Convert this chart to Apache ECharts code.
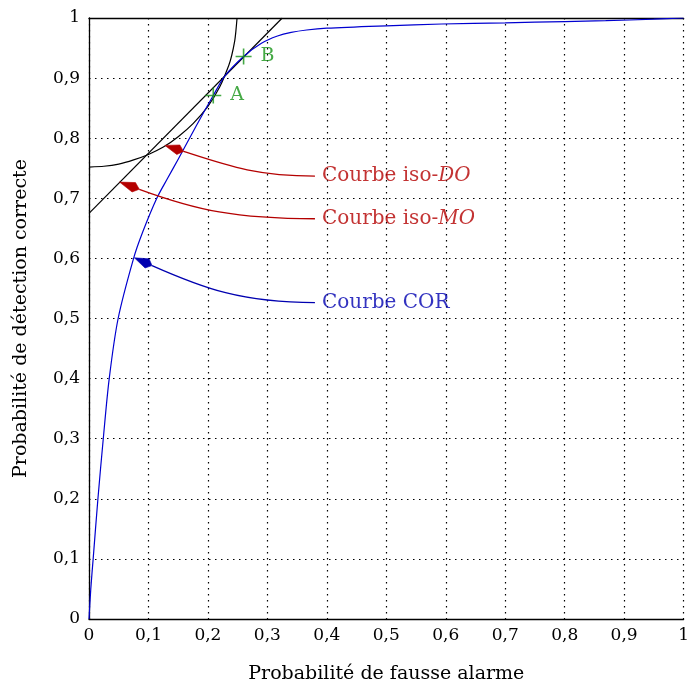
<!DOCTYPE html>
<html>
<head>
<meta charset="utf-8">
<script src="https://cdn.jsdelivr.net/npm/echarts@6/dist/echarts.min.js"></script>
<style>html,body{margin:0;padding:0;background:#fff}#c{width:692px;height:689px}</style>
</head>
<body>
<div id="c"></div>
<script>
// ---- data ----
const tickLabels = ['0','0,1','0,2','0,3','0,4','0,5','0,6','0,7','0,8','0,9','1'];

const rocX = [0, 0.003, 0.007, 0.015, 0.024, 0.034, 0.049, 0.075, 0.09, 0.114, 0.1315, 0.15, 0.18, 0.209, 0.228, 0.26, 0.29, 0.317, 0.34, 0.366, 0.40, 0.5, 0.593, 0.7, 0.8, 0.869, 0.95, 1];
const rocY = [0, 0.05, 0.10, 0.20, 0.30, 0.40, 0.50, 0.60, 0.643, 0.70, 0.732, 0.765, 0.82, 0.871, 0.903, 0.936, 0.958, 0.970, 0.976, 0.980, 0.983, 0.987, 0.990, 0.992, 0.994, 0.9955, 0.998, 1];

const isoDoX = [0, 0.025, 0.05, 0.075, 0.1, 0.125, 0.15, 0.175, 0.2, 0.22, 0.235, 0.24, 0.245, 0.247, 0.249];
const isoDoY = [0.752, 0.7533, 0.757, 0.764, 0.773, 0.7852, 0.8025, 0.8243, 0.853, 0.8855, 0.921, 0.9376, 0.9615, 0.9778, 1.0];

const isoMoX = [0, 0.325];
const isoMoY = [0.675, 1];

const pointNames = ['A', 'B'];
const pointX = [0.209, 0.260];
const pointY = [0.871, 0.936];

const annNames = ['DO', 'MO', 'COR'];
const annTextX = [0.380, 0.380, 0.380];
const annTextY = [0.737, 0.666, 0.5265];
const annBackX = [0.159, 0.0846, 0.106];
const annBackY = [0.778, 0.715, 0.588];
const annTipX = [0.1277, 0.0514, 0.0763];
const annTipY = [0.788, 0.727, 0.601];
const annColors = ['#b40000', '#b40000', '#0000b0'];

// ---- chart ----
const FONT = 'DejaVu Serif';
const zip = (xs, ys) => xs.map((x, i) => [x, ys[i]]);
const tickFmt = v => tickLabels[Math.round(v * 10)];

const annArrows = annNames.map((n, i) => [annTextX[i], annTextY[i], annBackX[i], annBackY[i], annTipX[i], annTipY[i]]);
const annLabels = annNames.map((n, i) => ({
  value: [annTextX[i], annTextY[i]],
  label: {
    color: annColors[i],
    formatter: n === 'COR' ? 'Courbe COR' : 'Courbe iso-{i|' + n + '}',
    rich: { i: { fontStyle: 'italic', color: annColors[i], fontFamily: FONT, fontSize: 20 } }
  }
}));

function renderArrow(params, api) {
  const p1 = api.coord([api.value(0), api.value(1)]);
  const pb = api.coord([api.value(2), api.value(3)]);
  const pt = api.coord([api.value(4), api.value(5)]);
  const color = annColors[params.dataIndex];
  let ux = pt[0] - pb[0], uy = pt[1] - pb[1];
  const L = Math.hypot(ux, uy); ux /= L; uy /= L;
  const nx = -uy, ny = ux, w = 5;
  const dx = p1[0] - pb[0];
  const k = 0.35 * dx;
  const side = 0.72 * L;
  return {
    type: 'group',
    children: [
      {
        type: 'bezierCurve',
        shape: {
          x1: p1[0], y1: p1[1], x2: pb[0], y2: pb[1],
          cpx1: p1[0] - 0.45 * dx, cpy1: p1[1],
          cpx2: pb[0] - ux * k, cpy2: pb[1] - uy * k
        },
        style: { stroke: color, fill: null, lineWidth: 1.3 }
      },
      {
        type: 'polygon',
        shape: {
          points: [
            pt,
            [pt[0] - ux * side + nx * w, pt[1] - uy * side + ny * w],
            [pb[0], pb[1]],
            [pt[0] - ux * side - nx * w, pt[1] - uy * side - ny * w]
          ]
        },
        style: { fill: color, stroke: color, lineWidth: 0.6 }
      }
    ]
  };
}

const chart = echarts.init(document.getElementById('c'), null, { renderer: 'canvas' });
chart.setOption({
  animation: false,
  textStyle: { fontFamily: FONT },
  grid: { left: 89, right: 0, top: 18, bottom: 67, containLabel: false },
  xAxis: [{
    type: 'value', min: 0, max: 1, interval: 0.1,
    name: 'Probabilité de fausse alarme', nameLocation: 'middle', nameGap: 46,
    nameTextStyle: { fontFamily: FONT, fontSize: 19, color: '#000' },
    axisLine: { show: true, onZero: false, lineStyle: { color: '#000', width: 1.3 } },
    axisTick: { show: false },
    axisLabel: { formatter: tickFmt, fontFamily: FONT, fontSize: 17, color: '#000', margin: 8 },
    splitLine: { show: true, lineStyle: { color: '#000', type: [1.5, 4.5], width: 1.2 } }
  }, {
    type: 'value', min: 0, max: 1, position: 'top',
    axisLine: { show: true, onZero: false, lineStyle: { color: '#000', width: 1.3 } },
    axisTick: { show: false }, axisLabel: { show: false }, splitLine: { show: false }
  }],
  yAxis: {
    type: 'value', min: 0, max: 1, interval: 0.1,
    name: 'Probabilité de détection correcte', nameLocation: 'middle', nameGap: 58, nameRotate: 90,
    nameTextStyle: { fontFamily: FONT, fontSize: 19, color: '#000' },
    axisLine: { show: true, onZero: false, lineStyle: { color: '#000', width: 1.3 } },
    axisTick: { show: false },
    axisLabel: { formatter: tickFmt, fontFamily: FONT, fontSize: 17, color: '#000', margin: 9 },
    splitLine: { show: true, lineStyle: { color: '#000', type: [1.5, 4.5], width: 1.2 } }
  },
  series: [
    {
      type: 'line', name: 'iso-DO', data: zip(isoDoX, isoDoY), smooth: 0.2,
      symbol: 'none', lineStyle: { color: '#000', width: 1.2 }, z: 3
    },
    {
      type: 'line', name: 'iso-MO', data: zip(isoMoX, isoMoY),
      symbol: 'none', lineStyle: { color: '#000', width: 1.2 }, z: 3
    },
    {
      type: 'line', name: 'COR', data: zip(rocX, rocY), smooth: 0.3,
      symbol: 'none', lineStyle: { color: '#0000d0', width: 1.2 }, z: 4
    },
    {
      type: 'custom', coordinateSystem: 'cartesian2d', data: annArrows,
      encode: { x: [0, 2, 4], y: [1, 3, 5] },
      renderItem: renderArrow, clip: false, z: 5, silent: true
    },
    {
      type: 'scatter', data: annLabels, symbolSize: 0, z: 6,
      label: { show: true, position: 'right', distance: 7, fontFamily: FONT, fontSize: 20 }
    },
    {
      type: 'scatter', data: zip(pointX, pointY).map((p, i) => ({ value: p, name: pointNames[i] })),
      symbol: 'path://M0,9 L20,9 L20,11 L0,11 Z M9,0 L11,0 L11,20 L9,20 Z',
      symbolSize: 16, itemStyle: { color: '#179417' }, z: 7,
      label: { show: true, position: 'right', distance: 9, formatter: '{b}', color: '#179417', fontFamily: FONT, fontSize: 19 }
    }
  ]
});
</script>
</body>
</html>
